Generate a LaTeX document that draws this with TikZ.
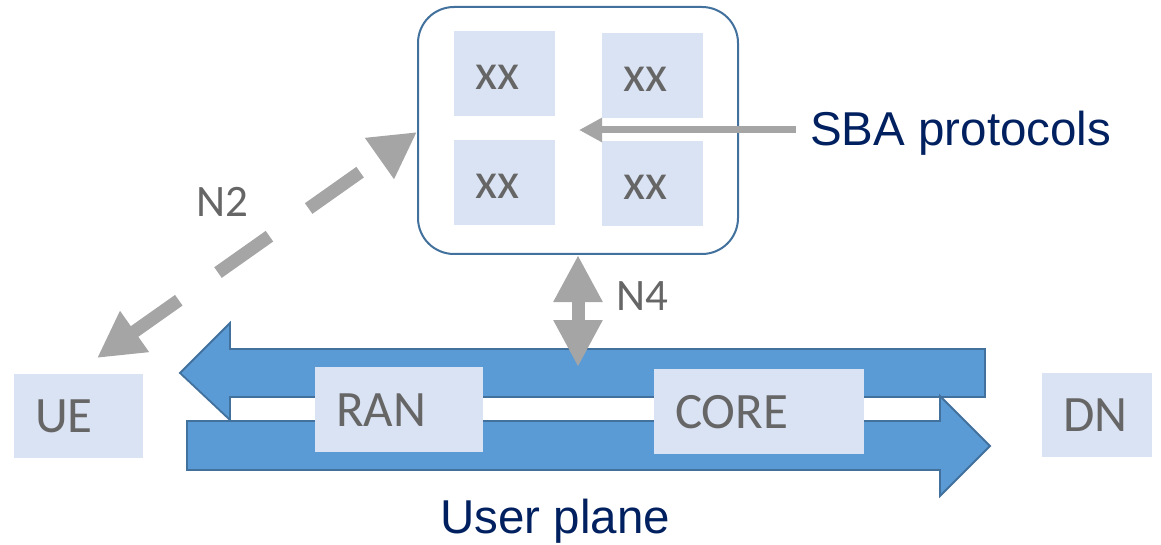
\documentclass[tikz,border=0pt]{standalone}
\usepackage{fontspec}
\newfontfamily\calfont{Carlito}
\newfontfamily\arialfont{Liberation Sans}
\usetikzlibrary{arrows.meta}
\definecolor{boxfill}{RGB}{218,227,243}
\definecolor{pipefill}{RGB}{91,155,213}
\definecolor{pipeedge}{RGB}{65,113,156}
\definecolor{linkgray}{RGB}{165,165,165}
\definecolor{labelgray}{RGB}{102,102,102}
\definecolor{navy}{RGB}{0,32,96}
\begin{document}
\begin{tikzpicture}[x=1pt,y=-1pt,
  lbox/.style={fill=boxfill, text=labelgray, font=\calfont\fontsize{51}{56}\selectfont,
    inner xsep=21pt, inner ysep=0pt, text height=33pt, text depth=0pt,
    align=left, outer sep=0pt},
  cpbox/.style={draw=pipeedge, line width=2pt, fill=white, rounded corners=36pt},
  pipe/.style={draw=pipeedge, line width=1.8pt, fill=pipefill},
  iflabel/.style={text=labelgray, font=\calfont\fontsize{45}{50}\selectfont,
    inner sep=0pt, text height=29pt, text depth=0pt},
  bluetext/.style={text=navy, font=\arialfont\fontsize{47.5}{52}\selectfont, inner sep=0pt},
  biglink/.style={draw=linkgray, line width=13pt},
]
\useasboundingbox (0,0) rectangle (1161,545);

% user-plane pipes
\draw[pipe] (985,349) -- (230,349) -- (230,323) -- (180,373) -- (230,420)
  -- (230,397) -- (985,397) -- cycle;
\draw[pipe] (187,421) -- (940,421) -- (940,396) -- (990,446) -- (940,496)
  -- (940,470) -- (187,470) -- cycle;

% network elements
\node[lbox, minimum width=129pt, minimum height=84pt, text width=87pt] (ue) at (78.5,416) {UE};
\node[lbox, minimum width=168pt, minimum height=85pt, text width=126pt] (ran) at (399,409.5) {RAN};
\node[lbox, minimum width=210pt, minimum height=85pt, text width=168pt] (core) at (759,411.5) {CORE};
\node[lbox, minimum width=110pt, minimum height=84pt, text width=68pt] (dn) at (1097,415) {DN};

% control plane with its functions
\node[cpbox, minimum width=320pt, minimum height=247pt] (cp) at (578,130.5) {};
\node[lbox, minimum width=101pt, minimum height=85pt, text width=59pt] (f1) at (504.5,73.5) {xx};
\node[lbox, minimum width=101pt, minimum height=85pt, text width=59pt] (f2) at (652.5,75.5) {xx};
\node[lbox, minimum width=101pt, minimum height=85pt, text width=59pt] (f3) at (504.5,182.5) {xx};
\node[lbox, minimum width=101pt, minimum height=85pt, text width=59pt] (f4) at (652.5,183.5) {xx};

% N4 between control plane and user plane
\coordinate (n4end) at (578,367);
\draw[biglink, {Triangle[length=47pt,width=46pt]}-{Triangle[length=47pt,width=46pt]}]
  (cp.south) -- (n4end);
\node[iflabel] (n4) at (642,296) {N4};

% N2 between UE and control plane
\coordinate (n2ue) at (97,358);
\coordinate (n2cp) at (417,132);
\draw[biglink, dash pattern=on 63pt off 48pt, dash phase=6pt,
  {Triangle[length=46pt,width=47pt]}-{Triangle[length=46pt,width=47pt]}]
  (n2ue) -- (n2cp);
\node[iflabel] (n2) at (222,202.5) {N2};

% service-based interfaces
\node[bluetext, anchor=base west] (sba) at (810,146) {SBA protocols};
\coordinate (sbastart) at (796,130);
\coordinate (sbaend) at (579,130);
\draw[draw=linkgray, line width=7pt, -{Triangle[length=23pt,width=23pt]}] (sbastart) -- (sbaend);

\node[bluetext, anchor=base west] (up) at (440,533) {User plane};
\end{tikzpicture}
\end{document}
